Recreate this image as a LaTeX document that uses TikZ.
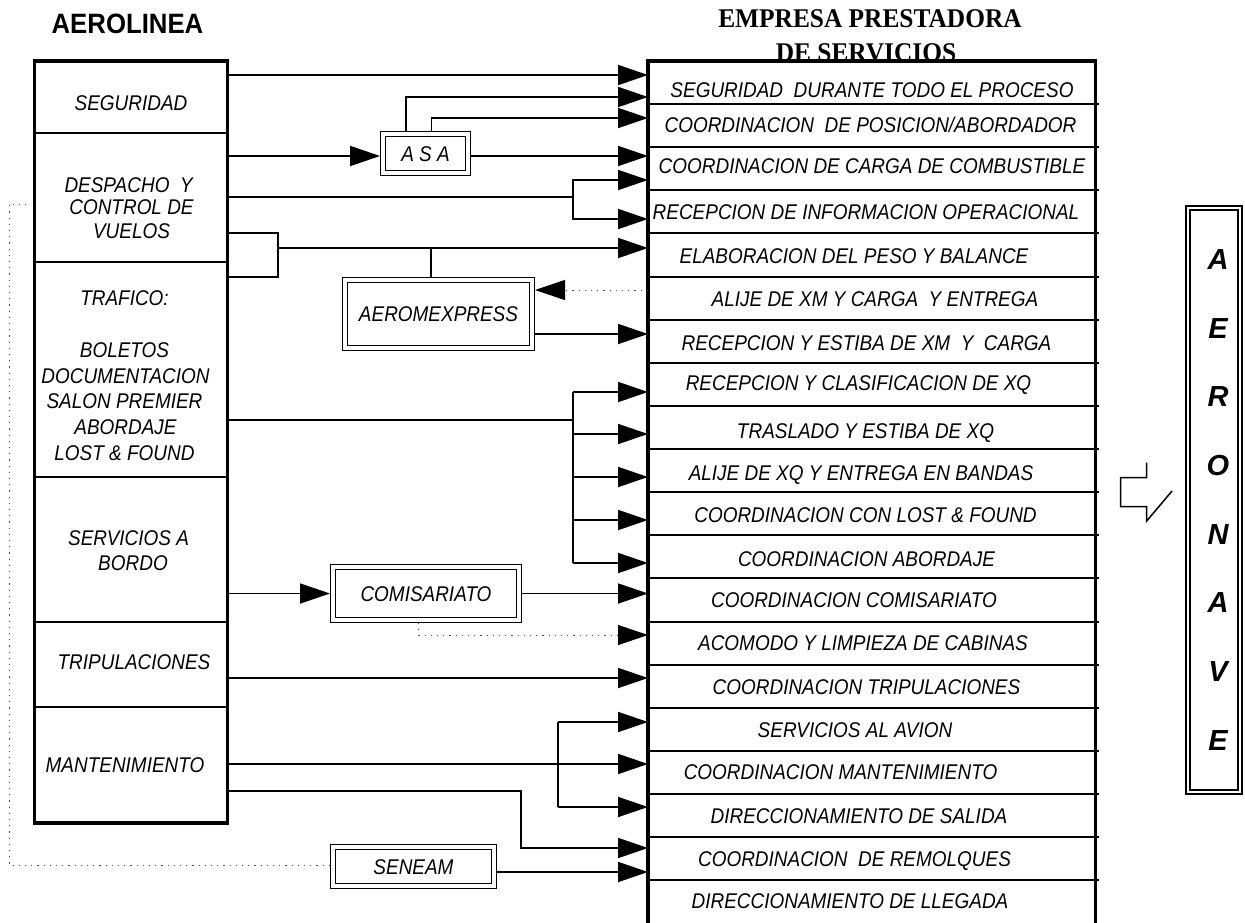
\documentclass[tikz,border=0pt]{standalone}
\usepackage{fontspec}
\setmainfont{Liberation Sans}
\newfontfamily\narrowsans[FakeStretch=0.89]{Liberation Sans}
\newfontfamily\titlesans[FakeStretch=0.92]{Liberation Sans}
\newfontfamily\titleserif[FakeStretch=0.94]{Liberation Serif}
\usetikzlibrary{arrows.meta,fit,calc}

\begin{document}
\begin{tikzpicture}[x=1pt,y=-1pt,
  cellbox/.style={inner sep=0pt, outer sep=0pt},
  lbl/.style={inner sep=0pt, font=\narrowsans\itshape\fontsize{21.3}{24}\selectfont, text height=15.3pt, text depth=0pt},
  bigletter/.style={inner sep=0pt, font=\fontsize{29}{30}\selectfont\bfseries\itshape, text height=20.8pt, text depth=0pt},
  conn/.style={line width=1.8pt},
  arr/.style={conn, -{Triangle[length=30pt,width=20pt]}},
  dots/.style={line width=1pt, black!70, dash pattern=on 1.2pt off 5pt},
  dotarr/.style={dots, -{Triangle[length=30pt,width=20pt,black]}},
  dbl/.style={draw, line width=1.4pt, double, double distance=3.2pt, inner sep=0pt, outer sep=3pt,
    font=\narrowsans\itshape\fontsize{21.3}{24}\selectfont, text height=15.3pt, text depth=0pt},
  frame/.style={line width=3pt},
  heavy/.style={line width=4pt},
  rule/.style={line width=2pt},
]
\fill[white] (0,0) rectangle (1245,922);
\useasboundingbox (0,0) rectangle (1245,922);

% ---------- titles ----------
\node[inner sep=0pt, font=\titlesans\bfseries\fontsize{28}{28}\selectfont, text height=20pt, text depth=0pt] (tAero) at (127.5,23) {AEROLINEA};
\node[inner sep=0pt, font=\titleserif\bfseries\fontsize{27}{27}\selectfont, text height=17.9pt, text depth=0pt] (tEmp1) at (870,19) {EMPRESA PRESTADORA};
\node[inner sep=0pt, font=\titleserif\bfseries\fontsize{27}{27}\selectfont, text height=17.9pt, text depth=0pt] (tEmp2) at (866,52.5) {DE SERVICIOS};

% ---------- airline column ----------
\node[cellbox, fit={(34,61) (227,133)}] (L1) {};
\node[cellbox, fit={(34,133) (227,262)}] (L2) {};
\node[cellbox, fit={(34,262) (227,477)}] (L3) {};
\node[cellbox, fit={(34,477) (227,622)}] (L4) {};
\node[cellbox, fit={(34,622) (227,707)}] (L5) {};
\node[cellbox, fit={(34,707) (227,823)}] (L6) {};

\draw[frame] (L1.north west) -- (L6.south west);
\draw[frame] (L1.north east) -- (L6.south east);
\draw[heavy] ([xshift=-1.5pt]L1.north west) -- ([xshift=1.5pt]L1.north east);
\draw[heavy] ([xshift=-1.5pt]L6.south west) -- ([xshift=1.5pt]L6.south east);
\foreach \i in {1,...,5} \draw[rule] (L\i.south west) -- ([xshift=2pt]L\i.south east);

\node[lbl] (a1) at (131,102.5) {SEGURIDAD};
\node[lbl] (a2) at (128.6,185) {DESPACHO\ \ Y};
\node[lbl] (a3) at (131.5,207) {CONTROL DE};
\node[lbl] (a4) at (131.5,230.5) {VUELOS};
\node[lbl] (a5) at (124.5,298) {TRAFICO:};
\node[lbl] (a6) at (124.5,350) {BOLETOS};
\node[lbl] (a7) at (125.5,376) {DOCUMENTACION};
\node[lbl] (a8) at (124.5,401) {SALON PREMIER};
\node[lbl] (a9) at (125.5,427) {ABORDAJE};
\node[lbl] (a10) at (124.5,453) {LOST \& FOUND};
\node[lbl] (a11) at (128.6,537.5) {SERVICIOS A};
\node[lbl] (a12) at (133,563) {BORDO};
\node[lbl] (a13) at (134,662) {TRIPULACIONES};
\node[lbl] (a14) at (125,765) {MANTENIMIENTO};

% ---------- service company column ----------
\foreach \i in {1,...,20}{
  \pgfmathsetmacro\ytop{61+43.12*(\i-1)}
  \pgfmathsetmacro\ybot{61+43.12*\i}
  \node[cellbox, fit={(648,\ytop) (1095,\ybot)}] (R\i) {};
}
\draw[heavy] ([yshift=2pt]R1.north west) -- ([yshift=-3pt]R20.south west);
\draw[frame] ([yshift=2pt]R1.north east) -- ([yshift=-3pt]R20.south east);
\draw[heavy] ([xshift=-2pt]R1.north west) -- ([xshift=2pt]R1.north east);
\foreach \i in {1,...,19} \draw[rule] (R\i.south west) -- ([xshift=4pt]R\i.south east);

\node[lbl] (s1) at (872,89.5) {SEGURIDAD\ \ DURANTE TODO EL PROCESO};
\node[lbl] (s2) at (870.5,124.5) {COORDINACION\ \ DE POSICION/ABORDADOR};
\node[lbl] (s3) at (872,166) {COORDINACION DE CARGA DE COMBUSTIBLE};
\node[lbl] (s4) at (866,212) {RECEPCION DE INFORMACION OPERACIONAL};
\node[lbl] (s5) at (854,256) {ELABORACION DEL PESO Y BALANCE};
\node[lbl] (s6) at (875,299) {ALIJE DE XM Y CARGA\ \ Y ENTREGA};
\node[lbl] (s7) at (866.5,343) {RECEPCION Y ESTIBA DE XM\ \ Y\ \ CARGA};
\node[lbl] (s8) at (858.5,383) {RECEPCION Y CLASIFICACION DE XQ};
\node[lbl] (s9) at (865.5,431) {TRASLADO Y ESTIBA DE XQ};
\node[lbl] (s10) at (861,472.5) {ALIJE DE XQ Y ENTREGA EN BANDAS};
\node[lbl] (s11) at (865.5,515) {COORDINACION CON LOST \& FOUND};
\node[lbl] (s12) at (866.5,559) {COORDINACION ABORDAJE};
\node[lbl] (s13) at (854,600) {COORDINACION COMISARIATO};
\node[lbl] (s14) at (863,643) {ACOMODO Y LIMPIEZA DE CABINAS};
\node[lbl] (s15) at (866.5,687) {COORDINACION TRIPULACIONES};
\node[lbl] (s16) at (855,730) {SERVICIOS AL AVION};
\node[lbl] (s17) at (840.5,772) {COORDINACION MANTENIMIENTO};
\node[lbl] (s18) at (859,816) {DIRECCIONAMIENTO DE SALIDA};
\node[lbl] (s19) at (854.5,859) {COORDINACION\ \ DE REMOLQUES};
\node[lbl] (s20) at (850,901) {DIRECCIONAMIENTO DE LLEGADA};

% ---------- intermediate agencies ----------
\node[dbl, minimum width=85pt, minimum height=39pt] (ASA) at (425.5,153.5) {A\ S\ A};
\node[dbl, minimum width=187pt, minimum height=68pt] (AERO) at (438.5,314) {AEROMEXPRESS};
\node[dbl, minimum width=186pt, minimum height=53pt] (COM) at (426,593.5) {COMISARIATO};
\node[dbl, minimum width=161pt, minimum height=39pt] (SEN) at (413.5,866.5) {SENEAM};

% ---------- aircraft ----------
\node[draw, line width=1.4pt, double, double distance=2.6pt, inner sep=0pt, outer sep=0pt,
  minimum width=52pt, minimum height=584pt] (AV) at (1214,500) {};
\foreach \c [count=\k from 0] in {A,E,R,O,N,A,V,E}
  \node[bigletter] (av\k) at (1218,{259+68.7*\k}) {\c};
\draw[line width=1.5pt] (1146.7,462.7) -- (1146.7,477.7) -- (1120.7,477.7) -- (1120.7,506.7)
  -- (1146.7,506.7) -- (1146.7,521) -- (1172,491);

% ---------- connectors ----------
\draw[arr] (L1.east |- 0,75) -- (R1.west |- 0,75);
\draw[arr] (ASA.north -| 406,0) |- (R1.west |- 0,97);
\draw[arr] (ASA.north -| 431.5,0) |- (R2.west |- 0,118);
\draw[arr] (L2.east |- 0,156) -- (ASA.west |- 0,156);
\draw[arr] (ASA.east |- 0,156) -- (R3.west |- 0,156);

\coordinate (j1) at (573,197);
\draw[conn] (L2.east |- j1) -- (j1);
\draw[arr] (j1) |- (R3.west |- 0,180);
\draw[arr] (j1) |- (R4.west |- 0,219);

\coordinate (j2) at (278,248);
\draw[conn] (L2.east |- 0,233) -| (j2);
\draw[conn] (L3.east |- 0,277) -| (j2);
\draw[arr] (j2) -- (R5.west |- j2);
\coordinate (j3) at (431,248);
\draw[conn] (AERO.north -| j3) -- (j3);
\draw[dotarr] (R6.west |- 0,290) -- (AERO.east |- 0,290);
\draw[arr] (AERO.east |- 0,334) -- (R7.west |- 0,334);

\coordinate (j4) at (573,420);
\draw[conn] (L3.east |- j4) -- (j4);
\draw[conn] (j4 |- 0,392) -- (j4 |- 0,563);
\foreach \r/\yy in {8/392,9/434,10/477,11/520,12/563}
  \draw[arr] (j4 |- 0,\yy) -- (R\r.west |- 0,\yy);

\draw[arr] (L4.east |- COM.west) -- (COM.west);
\draw[arr] (COM.east) -- (R13.west |- COM.east);
\draw[dotarr] (COM.south -| 418,0) |- (R14.west |- 0,635);
\draw[arr] (L5.east |- 0,678) -- (R15.west |- 0,678);

\coordinate (j5) at (558,764);
\draw[arr] (L6.east |- j5) -- (R17.west |- j5);
\draw[conn] (j5 |- 0,722) -- (j5 |- 0,807);
\draw[arr] (j5 |- 0,722) -- (R16.west |- 0,722);
\draw[arr] (j5 |- 0,807) -- (R18.west |- 0,807);

\coordinate (j6) at (521,791);
\draw[arr] (L6.east |- j6) -- (j6) |- (R19.west |- 0,848);
\draw[arr] (SEN.east |- 0,872) -- (R19.west |- 0,872);

\coordinate (dc) at (9,204);
\draw[dots, shorten >=5pt] (SEN.west |- 0,865) -| (dc) -- (L2.west |- dc);
\end{tikzpicture}
\end{document}
